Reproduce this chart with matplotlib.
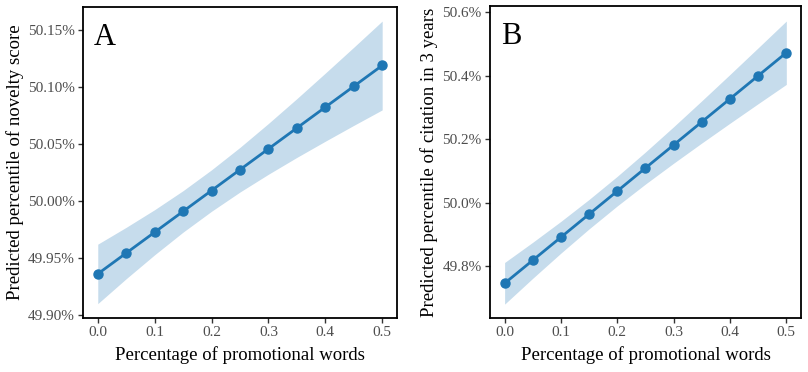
import matplotlib
matplotlib.use('Agg')
import matplotlib.pyplot as plt
from matplotlib.ticker import FuncFormatter

plt.rcParams['font.family'] = ['Liberation Serif', 'DejaVu Serif']

share = [0.0, 0.05, 0.1, 0.15, 0.2, 0.25, 0.3, 0.35, 0.4, 0.45, 0.5]

# panel A: novelty score (percent)
novelty_fit = [49.9357, 49.9540, 49.9723, 49.9906, 50.0089, 50.0272,
               50.0455, 50.0638, 50.0821, 50.1004, 50.1187]
novelty_low = [49.9096, 49.9315, 49.9525, 49.9724, 49.9907, 50.0076,
               50.0232, 50.0380, 50.0522, 50.0661, 50.0797]
novelty_high = [49.9618, 49.9766, 49.9921, 50.0088, 50.0271, 50.0468,
                50.0678, 50.0896, 50.1120, 50.1347, 50.1577]
novelty_ticks = [49.90, 49.95, 50.00, 50.05, 50.10, 50.15]

# panel B: citation in 3 years (percent)
citation_fit = [49.7465, 49.8192, 49.8918, 49.9645, 50.0371, 50.1098,
                50.1824, 50.2551, 50.3277, 50.4004, 50.4730]
citation_low = [49.6809, 49.7625, 49.8418, 49.9181, 49.9905, 50.0593,
                50.1249, 50.1886, 50.2509, 50.3124, 50.3732]
citation_high = [49.8121, 49.8759, 49.9418, 50.0109, 50.0837, 50.1603,
                 50.2399, 50.3216, 50.4045, 50.4884, 50.5728]
citation_ticks = [49.8, 50.0, 50.2, 50.4, 50.6]

x_ticks = [0.0, 0.1, 0.2, 0.3, 0.4, 0.5]

line_color = '#1f77b4'
band_color = '#c6dcec'
tick_gray = '#4d4d4d'

fig = plt.figure(figsize=(8.08, 3.72), dpi=100)
ax_a = fig.add_axes([0.1027, 0.1452, 0.3886, 0.8358])
ax_b = fig.add_axes([0.6064, 0.1452, 0.3849, 0.8376])


def draw_panel(ax, fit, low, high, yticks, ylim, decimals, ylabel, letter):
    ax.fill_between(share, low, high, color=band_color, linewidth=0)
    ax.plot(share, fit, color=line_color, linewidth=2.0, marker='o',
            markersize=6.5)
    ax.set_xlim(-0.026, 0.526)
    ax.set_ylim(*ylim)
    ax.set_xticks(x_ticks)
    ax.set_yticks(yticks)
    ax.xaxis.set_major_formatter(FuncFormatter(lambda v, p: f'{v:.1f}'))
    ax.yaxis.set_major_formatter(
        FuncFormatter(lambda v, p: f'{v:.{decimals}f}%'))
    ax.tick_params(axis='both', direction='out', length=3.5, width=1.0,
                   color='#333333', labelcolor=tick_gray, labelsize=11,
                   pad=2.5)
    for sp in ax.spines.values():
        sp.set_linewidth(1.3)
        sp.set_color('black')
    ax.set_xlabel('Percentage of promotional words', fontsize=13.5, labelpad=5)
    ax.set_ylabel(ylabel, fontsize=13.5, labelpad=3)
    ax.text(0.035, 0.95, letter, transform=ax.transAxes, fontsize=22,
            va='top', ha='left')


draw_panel(ax_a, novelty_fit, novelty_low, novelty_high, novelty_ticks,
           (49.897, 50.170), 2, 'Predicted percentile of novelty score', 'A')
draw_panel(ax_b, citation_fit, citation_low, citation_high, citation_ticks,
           (49.6373, 50.6189), 1, 'Predicted percentile of citation in 3 years',
           'B')

fig.savefig('out.png', dpi=100)
